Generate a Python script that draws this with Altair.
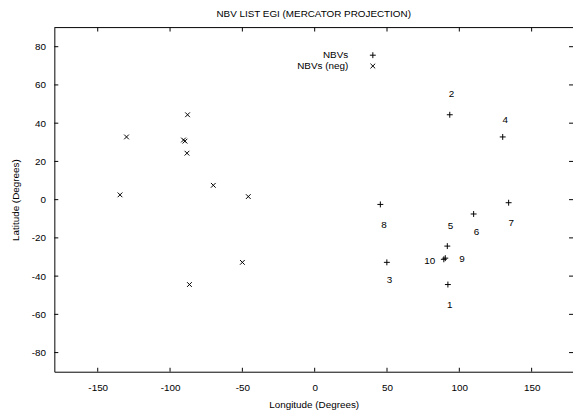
import altair as alt
import pandas as pd

# ---- data ----
nbv_ids = ["1", "2", "3", "4", "5", "6", "7", "8", "9", "10"]
nbv_lon = [92.1, 93.4, 49.9, 130.0, 91.7, 109.9, 134.1, 45.4, 90.3, 89.3]
nbv_lat = [-44.4, 44.4, -32.8, 32.8, -24.3, -7.5, -1.6, -2.5, -30.6, -31.2]
neg_lon = [-87.9, -86.6, -130.1, -50.0, -88.3, -70.1, -45.9, -134.6, -89.7, -90.7]
neg_lat = [44.4, -44.4, 32.8, -32.8, 24.3, 7.5, 1.6, 2.5, 30.6, 31.2]
label_lon = [93.4, 94.6, 51.8, 131.8, 93.9, 111.8, 135.9, 47.9, 101.8, 79.6]
label_lat = [-55.3, 55.0, -42.1, 41.6, -13.9, -17.2, -12.4, -13.2, -30.9, -32.1]
series_names = ["NBVs", "NBVs (neg)"]
x_ticks = [-150, -100, -50, 0, 50, 100, 150]
y_ticks = [-80, -60, -40, -20, 0, 20, 40, 60, 80]
x_domain = [-180, 178.6]
y_domain = [-90, 90]

FONT = "Liberation Sans"
PLUS = "M-1,0L1,0M0,-1L0,1"
CROSS = "M-0.8,-0.8L0.8,0.8M-0.8,0.8L0.8,-0.8"

W, H = 526, 349
TICK = 4

pts = pd.concat([
    pd.DataFrame({"lon": nbv_lon, "lat": nbv_lat, "series": series_names[0]}),
    pd.DataFrame({"lon": neg_lon, "lat": neg_lat, "series": series_names[1]}),
], ignore_index=True)
labels = pd.DataFrame({"lon": label_lon, "lat": label_lat, "id": nbv_ids})
xt = pd.DataFrame({"lon": x_ticks})
yt = pd.DataFrame({"lat": y_ticks})
top_edge = pd.DataFrame({"lat": [y_domain[1]]})

xscale = alt.Scale(domain=x_domain, nice=False, zero=False)
yscale = alt.Scale(domain=y_domain, nice=False, zero=False)

HYPHEN = "replace(datum.label, '\u2212', '-')"

X_AXIS = alt.Axis(
    orient="bottom", values=x_ticks, title="Longitude (Degrees)",
    labelExpr=HYPHEN,
    ticks=False, tickSize=0, labelPadding=11, titlePadding=7,
    domain=True, domainColor="black", domainWidth=1, grid=False,
)
Y_AXIS = alt.Axis(
    orient="left", values=y_ticks, title="Latitude (Degrees)",
    labelExpr=HYPHEN,
    ticks=False, tickSize=0, labelPadding=9, titlePadding=11,
    domain=True, domainColor="black", domainWidth=1, grid=False,
)


def X(field="lon:Q"):
    return alt.X(field, scale=xscale, axis=X_AXIS)


def Y(field="lat:Q"):
    return alt.Y(field, scale=yscale, axis=Y_AXIS)


points = alt.Chart(pts).mark_point(
    filled=False, stroke="black", strokeWidth=1, opacity=1, size=36
).encode(
    x=X(), y=Y(),
    shape=alt.Shape("series:N", scale=alt.Scale(domain=series_names, range=[PLUS, CROSS]),
                    legend=alt.Legend(
                        title=None, orient="none", legendX=286, legendY=23,
                        labelAlign="right", labelOffset={"expr": "-30"}, symbolOffset=32,
                        symbolSize=36, symbolStrokeWidth=1, symbolStrokeColor="black",
                        symbolFillColor="transparent",
                        labelFont=FONT, labelFontSize=10, labelColor="black",
                        rowPadding=1, padding=0,
                    )),
)

texts = alt.Chart(labels).mark_text(
    font=FONT, fontSize=10, color="black", align="center", baseline="middle"
).encode(x=X(), y=Y(), text="id:N")

rule = dict(color="black", strokeWidth=1)
ticks_bottom = alt.Chart(xt).mark_rule(**rule).encode(
    x=X(), y=alt.value(H), y2=alt.value(H - TICK))
ticks_top = alt.Chart(xt).mark_rule(**rule).encode(
    x=X(), y=alt.value(0), y2=alt.value(TICK))
ticks_left = alt.Chart(yt).mark_rule(**rule).encode(
    y=Y(), x=alt.value(0), x2=alt.value(TICK))
ticks_right = alt.Chart(yt).mark_rule(**rule).encode(
    y=Y(), x=alt.value(W - TICK), x2=alt.value(W))
top_border = alt.Chart(top_edge).mark_rule(**rule).encode(
    y=Y(), x=alt.value(0), x2=alt.value(W))

chart = alt.layer(
    points, texts, ticks_bottom, ticks_top, ticks_left, ticks_right, top_border
).properties(
    width=W, height=H,
    autosize=alt.AutoSizeParams(type="none"),
    padding={"left": 47, "top": 17, "right": 0, "bottom": 38},
    title=alt.TitleParams(
        "NBV LIST EGI (MERCATOR PROJECTION)", font=FONT, fontSize=10,
        fontWeight="normal", color="black", anchor="middle", offset=8,
    ),
).configure_view(stroke=None).configure_axis(
    labelFont=FONT, labelFontSize=10, labelColor="black",
    titleFont=FONT, titleFontSize=10, titleColor="black", titleFontWeight="normal",
)

chart.save("out.html", embed_options={"renderer": "svg", "actions": False})
